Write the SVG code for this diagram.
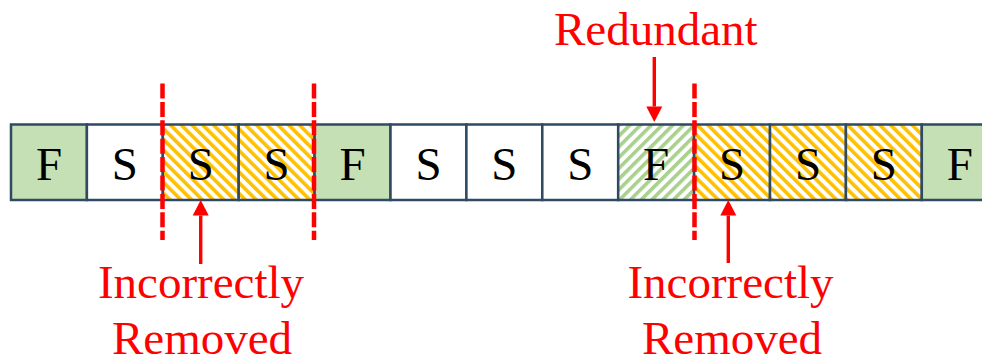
<svg xmlns="http://www.w3.org/2000/svg" width="982" height="356" viewBox="0 0 982 356">
  <style>
    .cell { stroke: #2F4A62; stroke-width: 2.5; }
    .frame { fill: #C5E0B4; }
    .slot { fill: #FFFFFF; }
    .cut { fill: url(#hatchOrange); }
    .dup { fill: url(#hatchGreen); }
    .glyph { font-family: "Liberation Serif", "Times New Roman", serif; font-size: 47px; fill: #000000; text-anchor: middle; }
    .note { font-family: "Liberation Serif", "Times New Roman", serif; font-size: 47px; fill: #FF0000; text-anchor: middle; }
    .split { stroke: #FF0000; stroke-width: 4.5; stroke-dasharray: 15 3.4; fill: none; }
    .pointer { stroke: #FF0000; stroke-width: 3.4; fill: none; marker-end: url(#head); }
  </style>
  <defs>
    <pattern id="hatchOrange" patternUnits="userSpaceOnUse" width="7.6" height="7.6" patternTransform="rotate(-45)">
      <rect width="7.6" height="7.6" fill="#FFFFFF"/>
      <rect width="3.6" height="7.6" fill="#FFC000"/>
    </pattern>
    <pattern id="hatchGreen" patternUnits="userSpaceOnUse" width="7.6" height="7.6" patternTransform="rotate(45)">
      <rect width="7.6" height="7.6" fill="#FFFFFF"/>
      <rect width="3.6" height="7.6" fill="#A9D18E"/>
    </pattern>
    <marker id="head" markerUnits="userSpaceOnUse" markerWidth="16" markerHeight="16" viewBox="0 -8 16 16" refX="0" refY="0" orient="auto" overflow="visible">
      <path d="M0,-8 L15.5,0 L0,8 z" fill="#FF0000"/>
    </marker>
  </defs>

  <!-- sequence of frames: F = full frame, S = skipped frame -->
  <g id="frame-0"><rect class="cell frame" x="11" y="124.5" width="75.9" height="75.5"/><text class="glyph" x="48.95" y="180">F</text></g>
  <g id="frame-1"><rect class="cell slot" x="86.9" y="124.5" width="75.9" height="75.5"/><text class="glyph" x="124.85" y="180">S</text></g>
  <g id="frame-2"><rect class="cell cut" x="162.8" y="124.5" width="75.9" height="75.5"/><text class="glyph" x="200.75" y="180">S</text></g>
  <g id="frame-3"><rect class="cell cut" x="238.7" y="124.5" width="75.9" height="75.5"/><text class="glyph" x="276.65" y="180">S</text></g>
  <g id="frame-4"><rect class="cell frame" x="314.6" y="124.5" width="75.9" height="75.5"/><text class="glyph" x="352.55" y="180">F</text></g>
  <g id="frame-5"><rect class="cell slot" x="390.5" y="124.5" width="75.9" height="75.5"/><text class="glyph" x="428.45" y="180">S</text></g>
  <g id="frame-6"><rect class="cell slot" x="466.4" y="124.5" width="75.9" height="75.5"/><text class="glyph" x="504.35" y="180">S</text></g>
  <g id="frame-7"><rect class="cell slot" x="542.3" y="124.5" width="75.9" height="75.5"/><text class="glyph" x="580.25" y="180">S</text></g>
  <g id="frame-8"><rect class="cell dup" x="618.2" y="124.5" width="75.9" height="75.5"/><text class="glyph" x="656.15" y="180">F</text></g>
  <g id="frame-9"><rect class="cell cut" x="694.1" y="124.5" width="75.9" height="75.5"/><text class="glyph" x="732.05" y="180">S</text></g>
  <g id="frame-10"><rect class="cell cut" x="770" y="124.5" width="75.9" height="75.5"/><text class="glyph" x="807.95" y="180">S</text></g>
  <g id="frame-11"><rect class="cell cut" x="845.9" y="124.5" width="75.9" height="75.5"/><text class="glyph" x="883.85" y="180">S</text></g>
  <g id="frame-12"><rect class="cell frame" x="921.8" y="124.5" width="75.9" height="75.5"/><text class="glyph" x="959.75" y="180">F</text></g>

  <!-- segment boundaries -->
  <g id="boundaries">
    <line class="split" x1="162.5" y1="83.5" x2="162.5" y2="240"/>
    <line class="split" x1="314" y1="83.5" x2="314" y2="240"/>
    <line class="split" x1="694.5" y1="83.5" x2="694.5" y2="240"/>
  </g>

  <!-- annotation arrows -->
  <g id="connectors">
    <line class="pointer" x1="654.3" y1="57" x2="654.3" y2="106.5"/>
    <line class="pointer" x1="200.7" y1="264" x2="200.7" y2="215.5"/>
    <line class="pointer" x1="728.3" y1="263" x2="728.3" y2="215.5"/>
  </g>

  <!-- labels -->
  <g id="label-redundant"><text class="note" x="655.8" y="45">Redundant</text></g>
  <g id="label-removed-left"><text class="note" x="201" y="297.7">Incorrectly</text><text class="note" x="202" y="353.5">Removed</text></g>
  <g id="label-removed-right"><text class="note" x="730.5" y="297.7">Incorrectly</text><text class="note" x="732" y="353.5">Removed</text></g>
</svg>
